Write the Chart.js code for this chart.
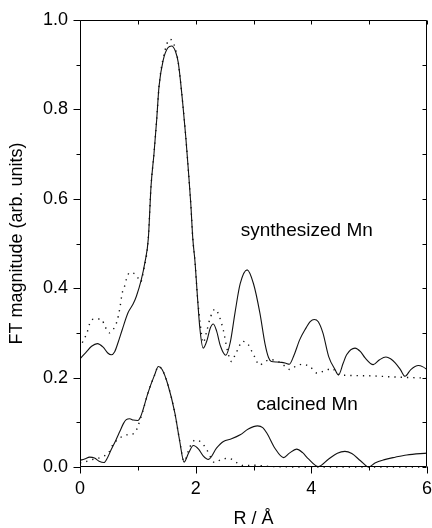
<!DOCTYPE html>
<html><head><meta charset="utf-8">
<script src="https://cdn.jsdelivr.net/npm/chart.js@4"></script>
<style>html,body{margin:0;padding:0;background:#fff}#wrap{width:432px;height:528px;position:relative}</style>
</head><body><div id="wrap"><canvas id="c"></canvas></div>
<script>
// ---- data (R in Å, FT magnitude) ----
const synthSolidX = [0,0.1,0.2,0.3,0.4,0.48,0.54,0.6,0.66,0.73,0.83,0.92,0.975,1.06,1.12,1.182,1.228,1.28,1.326,1.366,1.44,1.52,1.585,1.65,1.70,1.776,1.828,1.873,1.915,1.95,1.99,2.03,2.075,2.13,2.2,2.25,2.305,2.36,2.43,2.52,2.6,2.68,2.77,2.89,3.0,3.11,3.2,3.26,3.31,3.4,3.49,3.56,3.62,3.7,3.8,3.89,3.98,4.05,4.12,4.2,4.3,4.41,4.47,4.55,4.61,4.755,4.85,4.93,5.07,5.18,5.29,5.37,5.45,5.54,5.62,5.72,5.85,5.93,6.0];
const synthSolidY = [0.242,0.256,0.270,0.276,0.268,0.255,0.251,0.258,0.279,0.307,0.345,0.365,0.382,0.419,0.456,0.512,0.628,0.702,0.777,0.851,0.911,0.938,0.942,0.930,0.904,0.814,0.740,0.665,0.590,0.512,0.457,0.382,0.307,0.266,0.285,0.310,0.320,0.305,0.270,0.250,0.280,0.345,0.410,0.441,0.410,0.345,0.275,0.245,0.236,0.235,0.234,0.232,0.230,0.250,0.285,0.307,0.325,0.330,0.325,0.300,0.247,0.218,0.206,0.232,0.251,0.266,0.258,0.244,0.229,0.240,0.246,0.242,0.233,0.218,0.203,0.218,0.227,0.224,0.218];
const synthDotX = [0.04,0.12,0.18,0.24,0.37,0.43,0.51,0.57,0.64,0.69,0.73,0.77,0.8,0.86,0.97,1.05,1.1,1.18,1.228,1.28,1.326,1.366,1.44,1.556,1.60,1.65,1.70,1.776,1.828,1.873,1.915,1.95,1.99,2.03,2.08,2.13,2.19,2.25,2.335,2.40,2.48,2.55,2.62,2.68,2.74,2.80,2.86,2.91,2.97,3.03,3.10,3.2,3.3,3.43,3.55,3.63,3.74,3.85,3.98,4.1,4.22,4.36,4.47,4.6,5.0,5.5,6.0];
const synthDotY = [0.278,0.300,0.325,0.331,0.331,0.315,0.300,0.307,0.326,0.356,0.389,0.404,0.419,0.435,0.430,0.414,0.440,0.510,0.628,0.702,0.777,0.851,0.915,0.957,0.952,0.935,0.904,0.814,0.740,0.665,0.590,0.512,0.457,0.382,0.320,0.278,0.303,0.333,0.353,0.340,0.305,0.260,0.236,0.250,0.266,0.281,0.280,0.274,0.259,0.244,0.228,0.236,0.240,0.236,0.225,0.218,0.226,0.230,0.224,0.210,0.215,0.220,0.207,0.205,0.204,0.201,0.199];
const calcSolidX = [0,0.08,0.167,0.25,0.33,0.415,0.48,0.54,0.62,0.69,0.75,0.80,0.86,0.92,1.0,1.05,1.09,1.176,1.29,1.355,1.42,1.52,1.64,1.72,1.80,1.88,1.96,2.05,2.13,2.22,2.36,2.48,2.62,2.77,2.91,3.07,3.16,3.23,3.37,3.52,3.62,3.745,3.85,3.95,4.12,4.3,4.45,4.58,4.7,4.85,4.99,5.1,5.25,5.45,5.65,6.0];
const calcSolidY = [0.015,0.018,0.022,0.020,0.013,0.010,0.022,0.039,0.060,0.080,0.097,0.106,0.108,0.105,0.104,0.113,0.128,0.166,0.206,0.225,0.218,0.184,0.121,0.061,0.011,0.032,0.048,0.040,0.025,0.017,0.042,0.057,0.063,0.072,0.085,0.092,0.088,0.076,0.042,0.021,0.031,0.040,0.032,0.018,0.001,0.018,0.031,0.035,0.030,0.014,0.000,0.009,0.016,0.022,0.027,0.031];
const calcDotX = [0,0.1,0.25,0.37,0.50,0.57,0.69,0.81,0.95,1.0,1.08,1.176,1.29,1.355,1.42,1.52,1.64,1.72,1.80,1.9,1.99,2.10,2.19,2.33,2.46,2.58,2.71,2.83,3.0,3.3,4.0,5.0,6.0];
const calcDotY = [0.009,0.012,0.018,0.022,0.033,0.050,0.065,0.072,0.076,0.091,0.122,0.166,0.206,0.225,0.218,0.184,0.121,0.061,0.013,0.045,0.060,0.055,0.039,0.010,0.018,0.019,0.010,0.003,0.004,0.001,0.000,0.000,0.000];
const xTicks = [0,2,4,6];
const yTicks = [0.0,0.2,0.4,0.6,0.8,1.0];
const labels = [
  {text:'synthesized Mn', x:2.78, y:0.517},
  {text:'calcined Mn', x:3.05, y:0.127}
];

const pts = (xs, ys) => xs.map((x,i)=>({x, y: ys[i]}));
const FONT = 'Liberation Sans, Arial, Helvetica, sans-serif';

const frame = {
  id:'frame',
  afterDatasetsDraw(chart){
    const {ctx, chartArea:a, scales:{x, y}} = chart;
    ctx.save();
    ctx.strokeStyle = '#000';
    ctx.lineWidth = 1;
    ctx.beginPath();
    const L = Math.round(a.left)+0.5, R = Math.round(a.right)-0.5, T = Math.round(a.top)+0.5, B = Math.round(a.bottom)-0.5;
    ctx.rect(L, T, R-L, B-T);
    for (let i=0;i<=10;i++){
      const v = i/10, py = Math.round(y.getPixelForValue(v))+0.5;
      const major = i%2===0;
      ctx.moveTo(L, py); ctx.lineTo(L-(major?7:4), py);
      ctx.moveTo(R, py); ctx.lineTo(R-4, py);
    }
    for (let i=0;i<=6;i++){
      const px = Math.round(x.getPixelForValue(i))+0.5;
      const major = i%2===0;
      ctx.moveTo(px, B); ctx.lineTo(px, B+(major?7:4));
      ctx.moveTo(px, T); ctx.lineTo(px, T+4);
    }
    ctx.stroke();
    ctx.fillStyle = '#000';
    ctx.font = '19px ' + FONT;
    ctx.textBaseline = 'alphabetic';
    ctx.textAlign = 'left';
    labels.forEach(l => ctx.fillText(l.text, x.getPixelForValue(l.x), y.getPixelForValue(l.y)));
    ctx.restore();
  }
};

new Chart(document.getElementById('c'), {
  type: 'line',
  data: {
    datasets: [
      {data: pts(synthSolidX, synthSolidY), borderColor:'#111', borderWidth:1.1, pointRadius:0, cubicInterpolationMode:'monotone', fill:false},
      {data: pts(synthDotX, synthDotY), borderColor:'#111', borderWidth:1.4, borderDash:[1.3,5], pointRadius:0, cubicInterpolationMode:'monotone', fill:false},
      {data: pts(calcSolidX, calcSolidY), borderColor:'#111', borderWidth:1.1, pointRadius:0, cubicInterpolationMode:'monotone', fill:false},
      {data: pts(calcDotX, calcDotY), borderColor:'#111', borderWidth:1.4, borderDash:[1.3,5], pointRadius:0, cubicInterpolationMode:'monotone', fill:false, clip:3}
    ]
  },
  options: {
    responsive:true, maintainAspectRatio:false, animation:false, devicePixelRatio:1,
    layout:{padding:{top:20, right:5, left:0, bottom:0}},
    plugins:{legend:{display:false}, tooltip:{enabled:false}},
    scales:{
      x:{type:'linear', min:0, max:6,
        afterBuildTicks: s => { s.ticks = xTicks.map(v=>({value:v})); },
        afterFit: s => { s.height = 61; s.paddingLeft = 0; s.paddingRight = 0; },
        grid:{display:false, drawTicks:false}, border:{display:false},
        ticks:{color:'#000', font:{family:FONT, size:18}, padding:11, callback: v => String(v), maxRotation:0},
        title:{display:true, text:'R / Å', color:'#000', font:{family:FONT, size:18, lineHeight:1}, padding:{top:0,bottom:0}}
      },
      y:{type:'linear', min:0, max:1,
        afterBuildTicks: s => { s.ticks = yTicks.map(v=>({value:v})); },
        afterFit: s => { s.width = 80; s.paddingTop = 0; s.paddingBottom = 0; },
        grid:{display:false, drawTicks:false}, border:{display:false},
        ticks:{color:'#000', font:{family:FONT, size:18}, padding:12, callback: v => Number(v).toFixed(1)},
        title:{display:true, text:'FT magnitude (arb. units)', color:'#000', font:{family:FONT, size:18, lineHeight:1}, padding:{top:8,bottom:0}}
      }
    }
  },
  plugins:[frame]
});
</script>
</body></html>
